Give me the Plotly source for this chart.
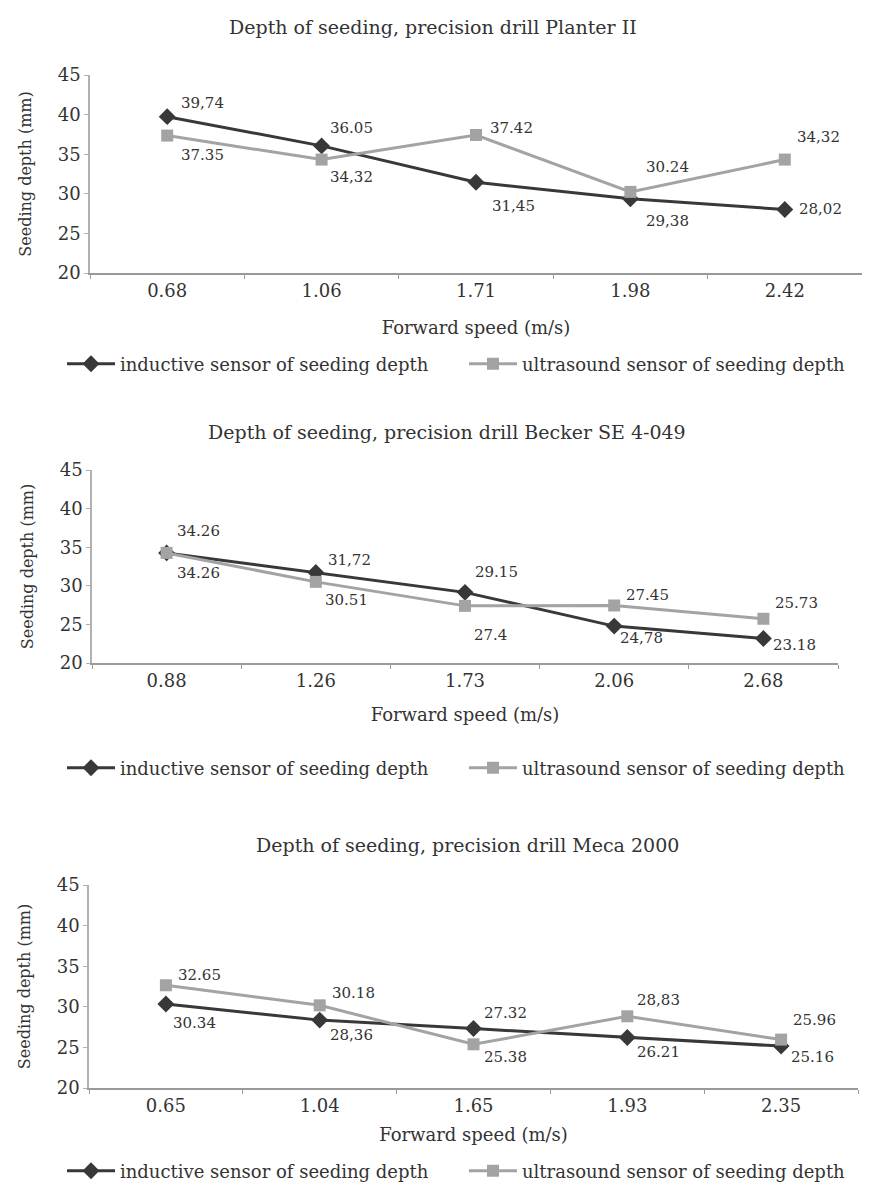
import plotly.graph_objects as go

# The page body keeps its default 8px margin, so the figure is sized to fit
# inside the 870x1195 window and all positions are given in window pixels.
OFF = 8
W, H = 870 - 2 * OFF, 1195 - 2 * OFF

# ---------------- data ----------------
titles = [
    "Depth of seeding, precision drill Planter II",
    "Depth of seeding, precision drill Becker SE 4-049",
    "Depth of seeding, precision drill Meca 2000",
]
speeds1 = ["0.68", "1.06", "1.71", "1.98", "2.42"]
inductive1 = [39.74, 36.05, 31.45, 29.38, 28.02]
ultrasound1 = [37.35, 34.32, 37.42, 30.24, 34.32]

speeds2 = ["0.88", "1.26", "1.73", "2.06", "2.68"]
inductive2 = [34.26, 31.72, 29.15, 24.78, 23.18]
ultrasound2 = [34.26, 30.51, 27.4, 27.45, 25.73]

speeds3 = ["0.65", "1.04", "1.65", "1.93", "2.35"]
inductive3 = [30.34, 28.36, 27.32, 26.21, 25.16]
ultrasound3 = [32.65, 30.18, 25.38, 28.83, 25.96]

series_names = ["inductive sensor of seeding depth", "ultrasound sensor of seeding depth"]
y_ticks = [20, 25, 30, 35, 40, 45]

# decimal separator as printed in the source labels
sep_ind1 = [",", ".", ",", ",", ","]
sep_ult1 = [".", ",", ".", ".", ","]
sep_ind2 = [".", ",", ".", ",", "."]
sep_ult2 = [".", ".", ".", ".", "."]
sep_ind3 = [".", ",", ".", ".", "."]
sep_ult3 = [".", ".", ".", ",", "."]

# ---------------- style / layout ----------------
FONT = "DejaVu Serif"
TXT = "#333333"
C_IND = "#383838"
C_ULT = "#a3a3a3"

# label offsets in px (dx to the right of point, dy downward)
off_ind1 = [(12, -14), (6, -18), (14, 24), (14, 22), (12, 0)]
off_ult1 = [(12, 19), (6, 17), (12, -7), (14, -25), (10, -23)]
off_ind2 = [(8, -22), (10, -13), (8, -20), (4, 12), (8, 7)]
off_ult2 = [(8, 20), (7, 18), (7, 29), (10, -10), (10, -16)]
off_ind3 = [(5, 19), (8, 15), (8, -16), (8, 14), (8, 11)]
off_ult3 = [(10, -10), (10, -12), (8, 13), (8, -16), (10, -20)]

# panel geometry in window px:
# (x_left, x_right, y_top(45), y_bottom(20), title_y, title_x, legend_y, xtitle_standoff)
panels = [
    (90, 862, 75, 273, 27, 433, 364, 22),
    (92, 838, 470, 663, 432, 447, 768, 19),
    (89, 858, 885, 1088, 845, 467, 1171, 14),
]
legend_item_x = [62, 464]  # window px where each legend entry's sample starts

datasets = [
    (speeds1, inductive1, ultrasound1, sep_ind1, sep_ult1, off_ind1, off_ult1),
    (speeds2, inductive2, ultrasound2, sep_ind2, sep_ult2, off_ind2, off_ult2),
    (speeds3, inductive3, ultrasound3, sep_ind3, sep_ult3, off_ind3, off_ult3),
]


def px(x):
    return min(1.0, max(0.0, (x - OFF) / W))


def py(y):
    return min(1.0, max(0.0, 1 - (y - OFF) / H))


def fmt(v, s):
    return f"{v:.2f}".rstrip("0").rstrip(".").replace(".", s)


fig = go.Figure()
annotations = []
layout_extra = {}

for i, (pan, ds) in enumerate(zip(panels, datasets)):
    xl, xr, yt, yb, ty, tx, ly, xstand = pan
    speeds, ind, ult, s_ind, s_ult, o_ind, o_ult = ds
    n = "" if i == 0 else str(i + 1)
    xa, ya = "x" + n, "y" + n
    leg_a = "legend" if i == 0 else f"legend{2 * i + 1}"
    leg_b = f"legend{2 * i + 2}"

    fig.add_trace(go.Scatter(
        x=speeds, y=ind, xaxis=xa, yaxis=ya, mode="lines+markers",
        name=series_names[0], legend=leg_a,
        line=dict(color=C_IND, width=3),
        marker=dict(symbol="diamond", size=13, color=C_IND),
    ))
    fig.add_trace(go.Scatter(
        x=speeds, y=ult, xaxis=xa, yaxis=ya, mode="lines+markers",
        name=series_names[1], legend=leg_b,
        line=dict(color=C_ULT, width=3),
        marker=dict(symbol="square", size=12, color=C_ULT),
    ))

    for vals, seps, offs in ((ind, s_ind, o_ind), (ult, s_ult, o_ult)):
        for j, (v, s, (dx, dy)) in enumerate(zip(vals, seps, offs)):
            annotations.append(dict(
                x=j, y=v, xref=xa, yref=ya, text=fmt(v, s), showarrow=False,
                xanchor="left", yanchor="middle", xshift=dx, yshift=-dy,
                font=dict(family=FONT, size=15, color=TXT),
            ))

    annotations.append(dict(
        x=px(tx), y=py(ty), xref="paper", yref="paper", text=titles[i],
        showarrow=False, xanchor="center", yanchor="middle",
        font=dict(family=FONT, size=19, color=TXT),
    ))

    layout_extra["xaxis" + n] = dict(
        domain=[px(xl), px(xr)], anchor=ya, type="category",
        range=[-0.5, 4.5], showline=True, linecolor="#9a9a9a", linewidth=2,
        ticks="outside", tickson="boundaries", ticklen=4, tickcolor="#9a9a9a",
        showgrid=False, zeroline=False, automargin=False,
        tickfont=dict(family=FONT, size=18, color=TXT),
        title=dict(text="Forward speed (m/s)", font=dict(family=FONT, size=18, color=TXT),
                   standoff=xstand),
    )
    layout_extra["yaxis" + n] = dict(
        domain=[py(yb), py(yt)], anchor=xa, range=[20, 45], tickvals=y_ticks,
        showline=True, linecolor="#b0b0b0", linewidth=1.5,
        ticks="outside", ticklen=4, tickcolor="#b0b0b0",
        showgrid=False, zeroline=False, automargin=False,
        tickfont=dict(family=FONT, size=18, color=TXT),
        title=dict(text="Seeding depth (mm)", font=dict(family=FONT, size=16, color=TXT),
                   standoff=22),
    )
    for leg, lx in zip((leg_a, leg_b), legend_item_x):
        layout_extra[leg] = dict(
            orientation="h", x=px(lx), y=py(ly), xanchor="left", yanchor="middle",
            font=dict(family=FONT, size=18, color=TXT), bgcolor="rgba(0,0,0,0)",
            itemwidth=48,
        )

fig.update_layout(
    width=W, height=H,
    margin=dict(l=0, r=0, t=0, b=0, autoexpand=False),
    paper_bgcolor="white", plot_bgcolor="white",
    annotations=annotations, showlegend=True,
    **layout_extra,
)

fig.write_html("out.html")
